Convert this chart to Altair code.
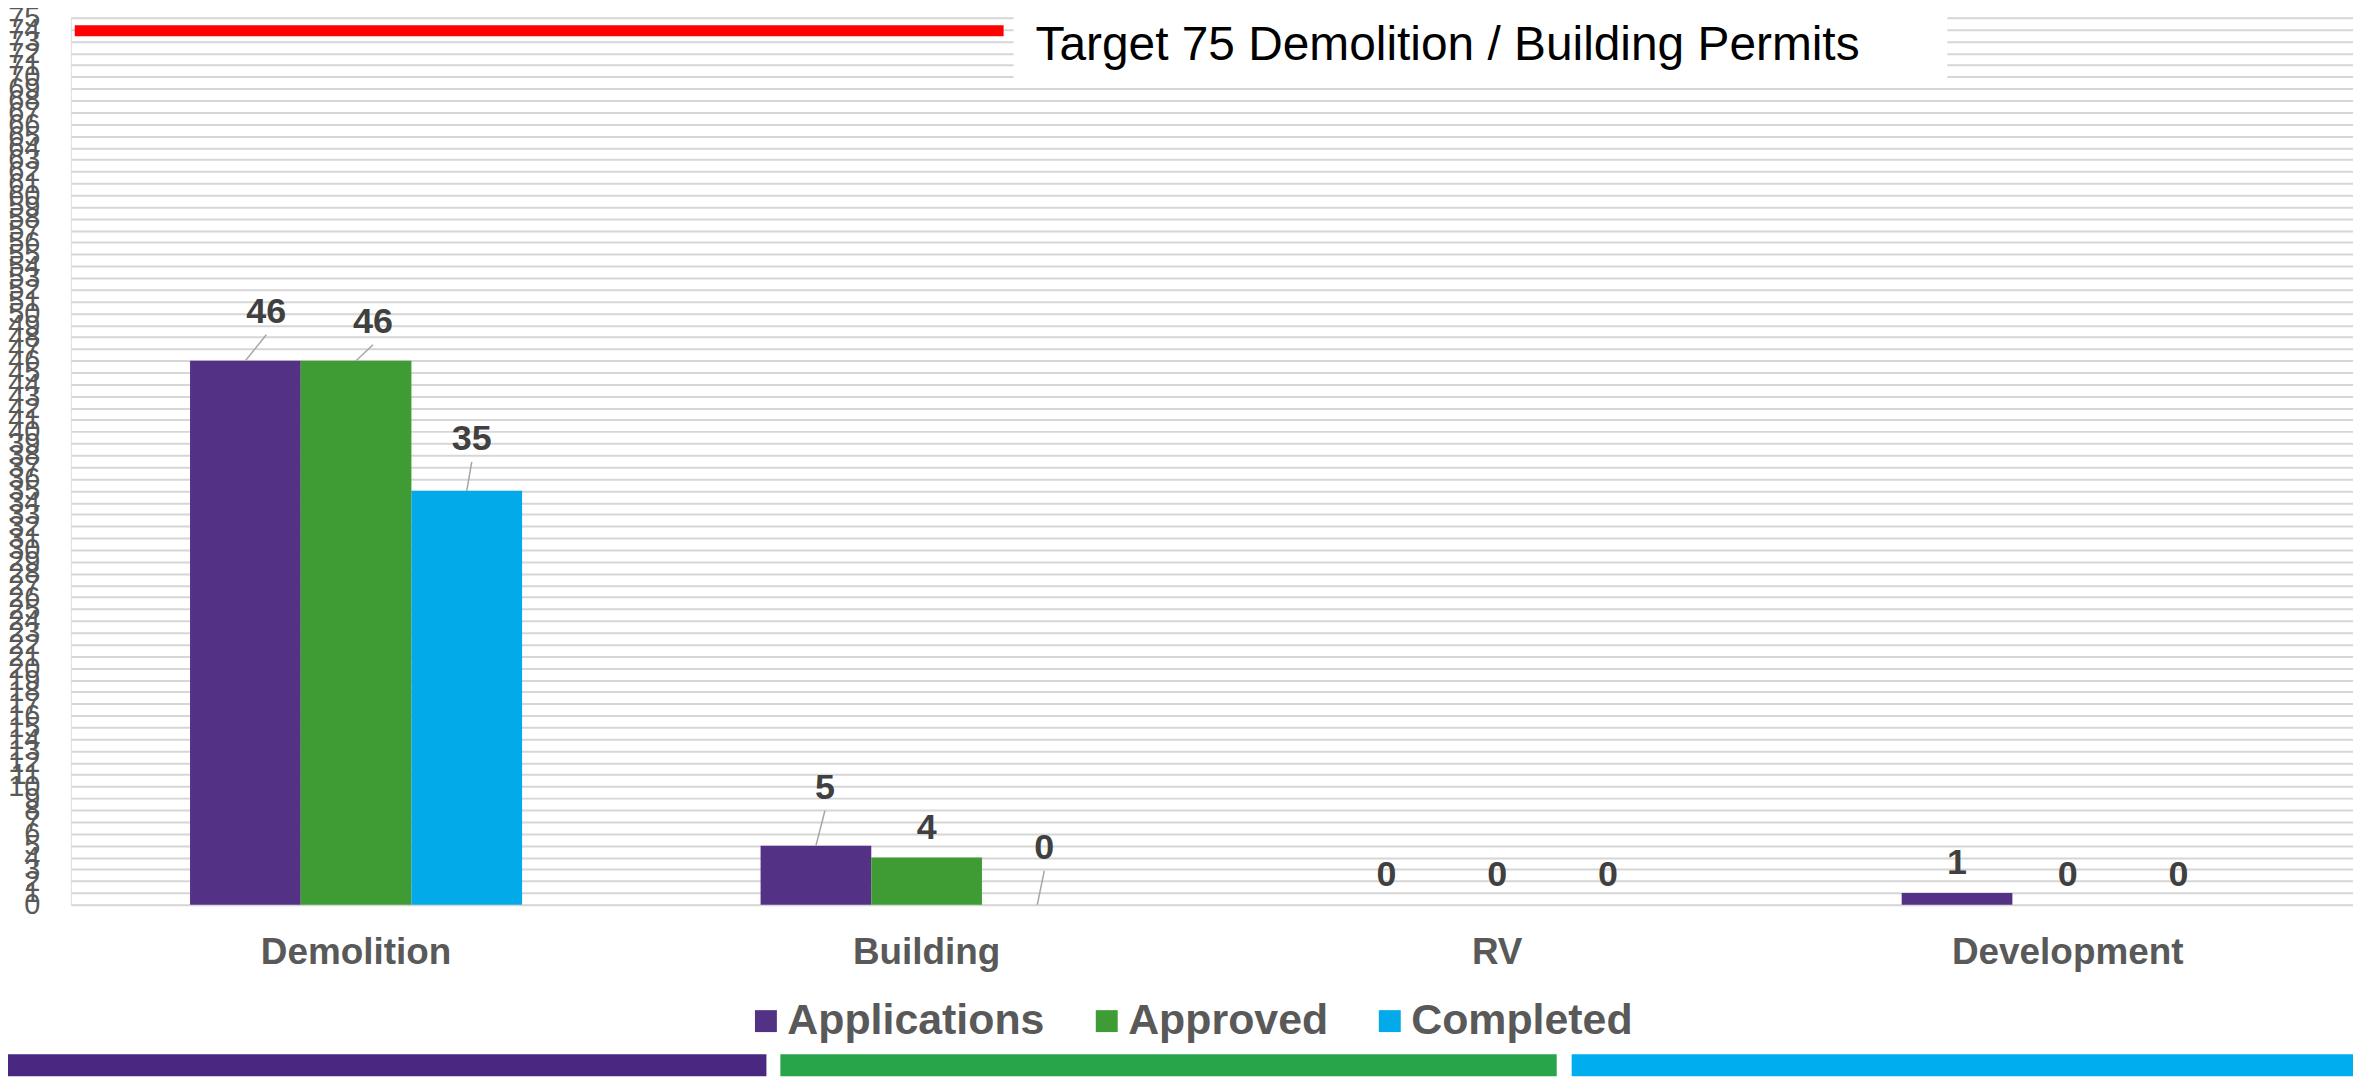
import altair as alt
import pandas as pd

# ---------------- data ----------------
categories = ["Demolition", "Building", "RV", "Development"]
series = ["Applications", "Approved", "Completed"]
applications = [46, 5, 0, 1]
approved = [46, 4, 0, 0]
completed = [35, 0, 0, 0]
series_colors = ["#533285", "#3f9c35", "#03aae9"]
y_ticks = list(range(0, 76))
target_text = "Target 75 Demolition / Building Permits"
target_marker_value = 73.9
strip_colors = ["#4a2882", "#28a44a", "#00aeef"]

# data-label callouts (pixel offset of the label baseline from the bar-top centre)
callouts = {
    ("Demolition", "Applications"): (21, -38),
    ("Demolition", "Approved"): (17, -28),
    ("Demolition", "Completed"): (5, -41),
    ("Building", "Applications"): (9, -47),
    ("Building", "Completed"): (7, -46),
}
default_offset = (0, -19)

FONT = "Liberation Sans, Arial, sans-serif"

rows = []
for s, vals in zip(series, [applications, approved, completed]):
    for c, v in zip(categories, vals):
        dx, dy = callouts.get((c, s), default_offset)
        rows.append({"cat": c, "series": s, "value": v, "ldx": dx, "ldy": dy,
                     "lead": (c, s) in callouts})
df = pd.DataFrame(rows)
lead_df = df[df["lead"]].copy()

# ---------------- layout ----------------
PLOT_W, PLOT_H = 2290, 890
PAD = {"left": 63, "top": 8, "right": 0, "bottom": 171}

x_enc = alt.X(
    "cat:N", sort=categories,
    scale=alt.Scale(paddingInner=0.418, paddingOuter=0.209),
    axis=alt.Axis(title=None, labelAngle=0, labelFont=FONT, labelFontSize=37,
                  labelFontWeight="bold", labelColor="#595959", labelPadding=59,
                  labelBaseline="alphabetic", domain=False, ticks=False, tickSize=0,
                  grid=False, labelLimit=0),
)
xoff_enc = alt.XOffset("series:N", sort=series, scale=alt.Scale(paddingInner=0, paddingOuter=0))
y_enc = alt.Y(
    "value:Q", scale=alt.Scale(domain=[0, 75], nice=False, zero=True),
    axis=alt.Axis(title=None, values=y_ticks, grid=True, gridColor="#d6d6d6", gridWidth=2,
                  domain=False, ticks=False, tickSize=0, labelPadding=31, labelFont=FONT,
                  labelFontSize=29, labelColor="#595959", labelOverlap=False, labelFlush=False,
                  labelBound=False),
)

bars = alt.Chart(df).mark_bar().encode(
    x=x_enc, xOffset=xoff_enc, y=y_enc,
    color=alt.Color(
        "series:N", sort=series,
        scale=alt.Scale(domain=series, range=series_colors),
        legend=alt.Legend(orient="none", legendX=676, legendY=985, direction="horizontal",
                          title=None, symbolType="square", symbolSize=484, symbolStrokeWidth=0,
                          labelFont=FONT, labelFontSize=43, labelFontWeight="bold",
                          labelColor="#595959", labelOffset=0, columnPadding=40, labelLimit=0),
    ),
)

labels = alt.Chart(df).mark_text(
    font=FONT, fontSize=36, fontWeight="bold", color="#404040", align="center",
    baseline="alphabetic", dx=alt.ExprRef("datum.ldx"), dy=alt.ExprRef("datum.ldy"),
).encode(x=x_enc, xOffset=xoff_enc, y=y_enc, text=alt.Text("value:Q"))

cx = "(scale('x', datum.cat) + scale('xOffset', datum.series) + bandwidth('xOffset') / 2)"
top = "scale('y', datum.value)"
leaders = alt.Chart(lead_df).mark_rule(color="#a6a6a6", strokeWidth=1.5).encode(
    x=alt.value(alt.ExprRef(cx)),
    x2=alt.value(alt.ExprRef(f"{cx} + datum.ldx")),
    y=alt.value(alt.ExprRef(top)),
    y2=alt.value(alt.ExprRef(f"{top} + datum.ldy + 12")),
)

one = pd.DataFrame({"t": [target_text]})

title_box = alt.Chart(one).mark_rect(color="white").encode(
    x=alt.value(946), x2=alt.value(1883), y=alt.value(-8), y2=alt.value(62))

target_line = alt.Chart(one).mark_rule(color="#ff0000", strokeWidth=11, strokeCap="butt").encode(
    x=alt.value(4), x2=alt.value(936),
    y=alt.value(alt.ExprRef(f"scale('y', {target_marker_value})")))

title_text = alt.Chart(one).mark_text(
    font=FONT, fontSize=48, color="black", align="left", baseline="alphabetic").encode(
    x=alt.value(968), y=alt.value(42), text=alt.Text("t:N"))

strip_x = [(-63, 698), (712, 1491), (1506, 2290)]
strips = [
    alt.Chart(one).mark_rect(color=col).encode(
        x=alt.value(a), x2=alt.value(b), y=alt.value(1040), y2=alt.value(1062))
    for col, (a, b) in zip(strip_colors, strip_x)
]

chart = alt.layer(bars, labels, leaders, title_box, target_line, title_text, *strips).properties(
    width=PLOT_W, height=PLOT_H, padding=PAD,
    autosize=alt.AutoSizeParams(type="none"),
).configure_view(stroke=None).configure(background="white")

chart.save("out.html", embed_options={"renderer": "svg", "actions": False})
